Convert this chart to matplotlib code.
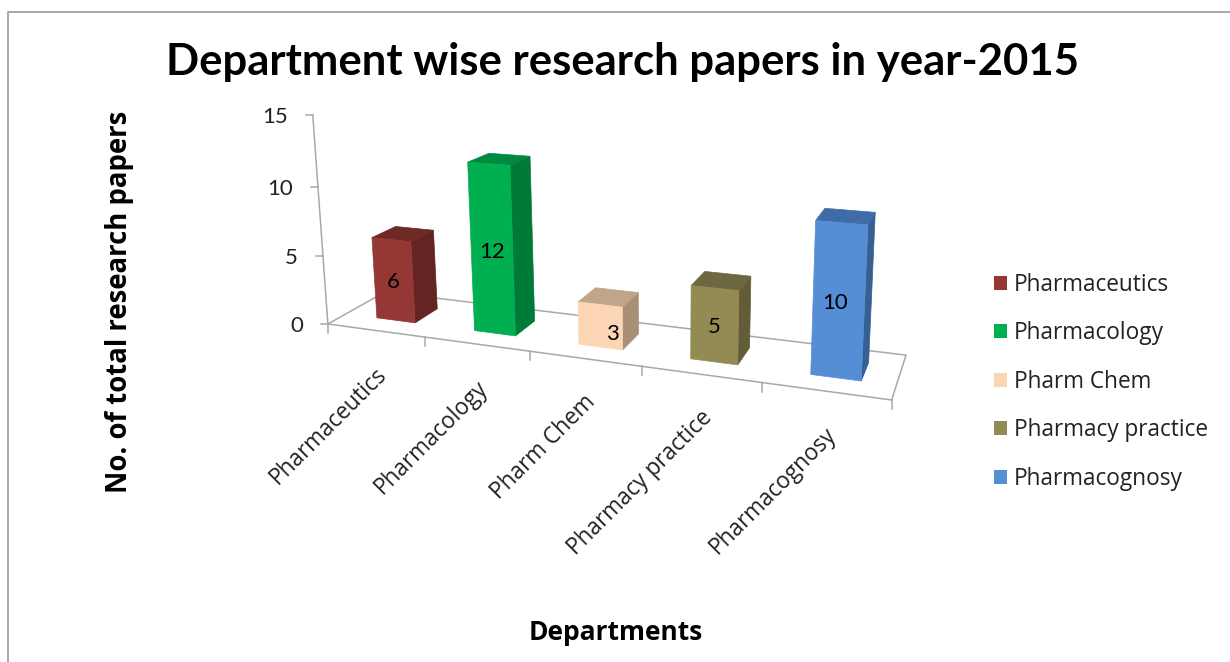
import numpy as np
import matplotlib
matplotlib.use("Agg")
import matplotlib.pyplot as plt
from matplotlib.patches import Polygon, Patch

plt.rcParams['font.family'] = ['Lato', 'DejaVu Sans']

departments = ['Pharmaceutics', 'Pharmacology', 'Pharm Chem', 'Pharmacy practice', 'Pharmacognosy']
papers = [6, 12, 3, 5, 10]
y_ticks = [0, 5, 10, 15]

front_colors = ['#953735', '#00b050', '#fcd5b5', '#948a54', '#558ed5']
side_colors = ['#632423', '#007a37', '#a88f78', '#635c38', '#366092']
top_colors = ['#6f2a28', '#008a40', '#c0a58a', '#6e6840', '#3f6ca6']

BAR_WIDTH = 0.40
BAR_SHIFT = 0.03
Z_FRONT, Z_BACK = 0.30, 0.72
GRAY = '#a8a8a8'
WIDE = 'Open Sans'

# the source labels sit a little off the face centre
label_nudge_x = [0, 0, 12, 0, -4]
label_nudge_y = [0, 0, 6, 0, 0]

# camera fit: chart-space (category, value, depth) -> picture pixels
anchors = [
    ((0, 0, 0), (329, 324)), ((1, 0, 0), (426, 338)), ((2, 0, 0), (528, 352)),
    ((3, 0, 0), (642, 367)), ((4, 0, 0), (762, 382)), ((5, 0, 0), (892, 399)),
    ((0, 0, 1), (385, 292)), ((5, 0, 1), (906, 355)),
    ((0, 5, 0), (322, 255)), ((0, 10, 0), (318, 187)), ((0, 15, 0), (313, 115)),
    ((5, 15, 0), (904, 153)),
]


def fit_camera(pairs):
    rows = []
    for (X, Y, Z), (u, v) in pairs:
        u, v = u / 500.0, v / 500.0
        rows.append([X, Y, Z, 1, 0, 0, 0, 0, -u * X, -u * Y, -u * Z, -u])
        rows.append([0, 0, 0, 0, X, Y, Z, 1, -v * X, -v * Y, -v * Z, -v])
    _, _, vt = np.linalg.svd(np.array(rows, dtype=float))
    return vt[-1].reshape(3, 4)


CAM = fit_camera(anchors)


def proj(x, y, z):
    p = CAM @ np.array([x, y, z, 1.0])
    return p[0] / p[2] * 500.0, p[1] / p[2] * 500.0


fig = plt.figure(figsize=(12.3, 6.62), dpi=100)
ax = fig.add_axes([0, 0, 1, 1])
ax.set_xlim(0, 1230)
ax.set_ylim(662, 0)
ax.axis('off')

# outer chart border
ax.plot([8, 8, 1230], [662, 12, 12], color='#a0a0a0', lw=1.3)

ax.text(622, 62, 'Department wise research papers in year-2015', fontsize=31.4, fontweight='bold',
        ha='center', va='center', color='black')

# floor and wall lines
n = len(departments)
floor = [proj(0, 0, 0), proj(n, 0, 0), proj(n, 0, 1), proj(0, 0, 1), proj(0, 0, 0)]
ax.plot(*zip(*floor), color=GRAY, lw=1.1, zorder=1)
ax.plot(*zip(proj(0, 0, 0), proj(0, 15, 0)), color=GRAY, lw=1.1, zorder=1)

for v in y_ticks:
    px, py = proj(0, v, 0)
    ax.plot([px - 7, px], [py, py], color=GRAY, lw=1.1, zorder=1)
    ax.text(px - 25, py + 2, str(v), ha='right', va='center', fontsize=16, color='#222222')

for i in range(n + 1):
    px, py = proj(i, 0, 0)
    ax.plot([px, px], [py, py + 9], color=GRAY, lw=1.1, zorder=1)

# bars
for i, val in enumerate(papers):
    mid = i + 0.5 + BAR_SHIFT
    x0, x1 = mid - BAR_WIDTH / 2, mid + BAR_WIDTH / 2
    front = [proj(x0, 0, Z_FRONT), proj(x1, 0, Z_FRONT), proj(x1, val, Z_FRONT), proj(x0, val, Z_FRONT)]
    side = [proj(x1, 0, Z_FRONT), proj(x1, 0, Z_BACK), proj(x1, val, Z_BACK), proj(x1, val, Z_FRONT)]
    top = [proj(x0, val, Z_FRONT), proj(x1, val, Z_FRONT), proj(x1, val, Z_BACK), proj(x0, val, Z_BACK)]
    ax.add_patch(Polygon(side, closed=True, fc=side_colors[i], ec=side_colors[i], lw=0.5, zorder=2))
    ax.add_patch(Polygon(top, closed=True, fc=top_colors[i], ec=top_colors[i], lw=0.5, zorder=2))
    ax.add_patch(Polygon(front, closed=True, fc=front_colors[i], ec=front_colors[i], lw=0.5, zorder=3))
    cx, cy = proj(mid, val / 2, Z_FRONT)
    ax.text(cx + label_nudge_x[i], cy + 2 + label_nudge_y[i], str(val), ha='center', va='center',
            fontsize=16, color='black', zorder=4)

    # category label hangs off the tick at 45 degrees
    lx, ly = proj(i + 0.5, 0, 0)
    ax.text(lx - 1, ly + 32, departments[i], rotation=45, rotation_mode='anchor', ha='right', va='top',
            fontsize=16.3, family=WIDE, color='#222222')

ax.text(120, 302, 'No. of total research papers', rotation=90, ha='center', va='center',
        fontsize=19.8, family=WIDE, fontweight='bold', color='black')
ax.text(616, 632, 'Departments', ha='center', va='center', fontsize=19, family=WIDE, fontweight='bold',
        color='black')

handles = [Patch(fc=c, ec='none') for c in front_colors]
ax.legend(handles, departments, loc='upper left', bbox_to_anchor=(987, 266), bbox_transform=ax.transData,
          frameon=False, prop={'family': WIDE, 'size': 16.3}, handlelength=0.575, handleheight=0.575,
          handletextpad=0.31, labelspacing=1.08, borderpad=0.3, borderaxespad=0, labelcolor='#222222')

fig.savefig('out.png', dpi=100)
